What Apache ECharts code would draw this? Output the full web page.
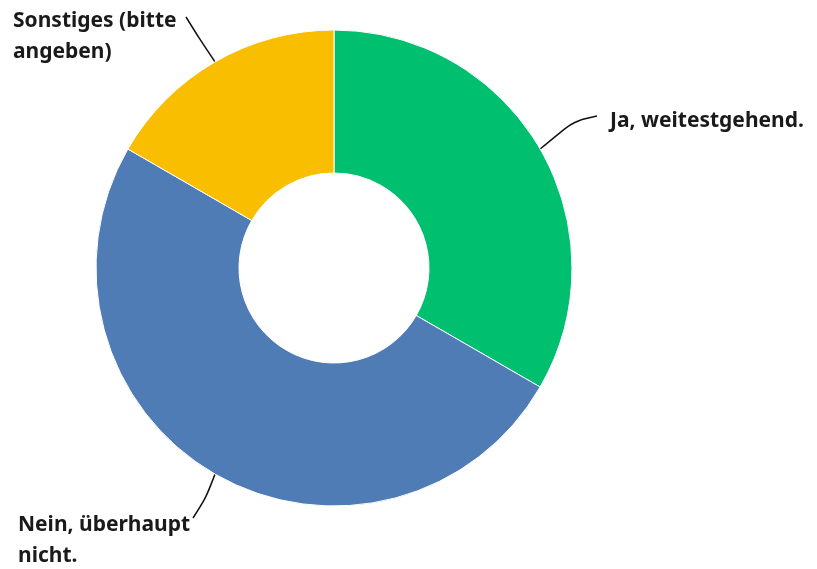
<!DOCTYPE html>
<html>
<head>
<meta charset="utf-8">
<script src="https://cdn.jsdelivr.net/npm/echarts@6/dist/echarts.min.js"></script>
<style>
  html, body { margin: 0; padding: 0; background: #fff; }
  #chart { width: 817px; height: 569px; }
</style>
</head>
<body>
<div id="chart"></div>
<script>
// answer categories, clockwise from 12 o'clock
const categories = ['Ja, weitestgehend.', 'Nein, überhaupt nicht.', 'Sonstiges (bitte angeben)'];
const labelText = ['Ja, weitestgehend.', 'Nein, überhaupt\nnicht.', 'Sonstiges (bitte\nangeben)'];
const values = [2, 3, 1];
const colors = ['#00bf6f', '#507cb6', '#f9be00'];

// label placement: left edge + vertical middle, plus where the leader line bends and ends
const labelPos = [
  { x: 610, y: 121, bend: [574, 121], end: [597, 116] },
  { x: 18, y: 541, bend: [206, 498], end: [193, 518] },
  { x: 13, y: 37, bend: [199, 38], end: [186, 17] },
];

const chart = echarts.init(document.getElementById('chart'));

chart.setOption({
  animation: false,
  color: colors,
  series: [
    {
      type: 'pie',
      center: [334, 268],
      radius: [95, 238],
      startAngle: 90,
      clockwise: true,
      itemStyle: { borderColor: '#fff', borderWidth: 1 },
      label: {
        show: true,
        position: 'outside',
        formatter: (p) => labelText[p.dataIndex],
        fontFamily: 'Noto Sans',
        fontWeight: 'bold',
        fontSize: 21,
        lineHeight: 31,
        color: '#1a1a1a',
        width: 260,
        overflow: 'none',
      },
      labelLine: {
        show: true,
        smooth: 0.3,
        length: 20,
        length2: 20,
        lineStyle: { color: '#111', width: 1.5 },
      },
      labelLayout: (params) => {
        const pos = labelPos[params.dataIndex];
        const start = params.labelLinePoints ? params.labelLinePoints[0] : pos.bend;
        return {
          x: pos.x,
          y: pos.y,
          align: 'left',
          verticalAlign: 'middle',
          labelLinePoints: [start, pos.bend, pos.end],
        };
      },
      data: categories.map((name, i) => ({ name, value: values[i] })),
    },
  ],
});
</script>
</body>
</html>
